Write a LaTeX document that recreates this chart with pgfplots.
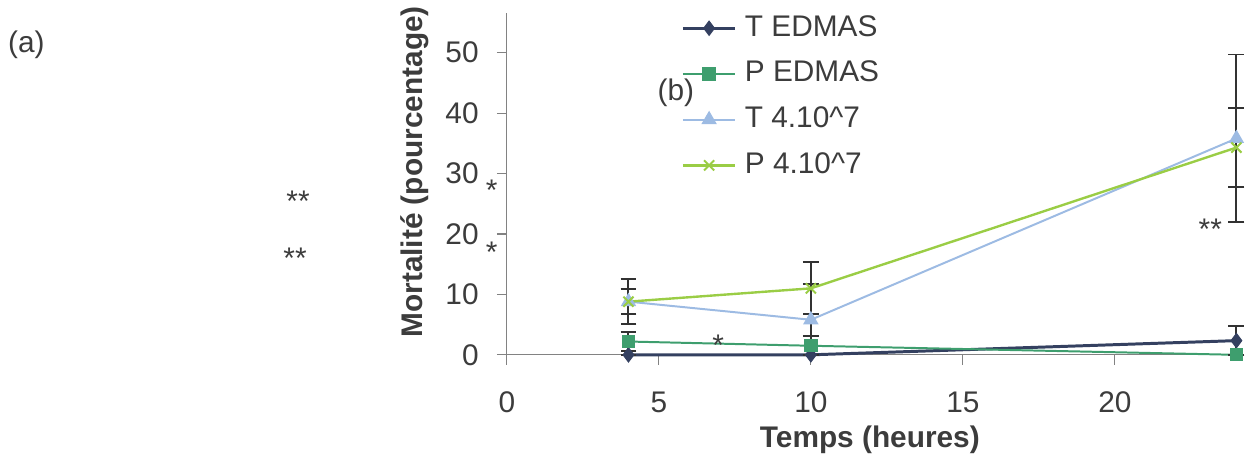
\documentclass[border=0pt]{standalone}
\usepackage{pgfplots}
\pgfplotsset{compat=1.18}
\usepackage{pgfplotstable}
\usepackage{fontspec}
\setmainfont{Liberation Sans}

\definecolor{tedmas}{RGB}{52,64,96}
\definecolor{pedmas}{RGB}{62,158,110}
\definecolor{tseven}{RGB}{157,187,227}
\definecolor{pseven}{RGB}{154,205,69}
\definecolor{txt}{RGB}{60,60,60}
\definecolor{axisgray}{RGB}{130,130,130}
\definecolor{errc}{RGB}{50,50,50}

% columns: time (h), mortality (%), error plus, error minus
\pgfplotstableread{
x  y     ep    em
4  0     0     0
10 0     0     0
24 2.35  2.4   2.4
}\tedmas
\pgfplotstableread{
x  y     ep    em
4  2.2   1.5   1.5
10 1.5   1.6   1.5
24 0     0     0
}\pedmas
\pgfplotstableread{
x  y     ep    em
4  8.8   2.1   2.1
10 5.8   6.0   5.8
24 35.8  13.9  13.9
}\tseven
\pgfplotstableread{
x  y     ep    em
4  8.8   3.7   3.7
10 11.0  4.3   4.3
24 34.3  6.6   6.6
}\pseven

\newcommand{\bigfont}{\fontsize{15pt}{18pt}\selectfont}

\begin{document}
\begin{tikzpicture}[font=\bigfont, text=txt]
\begin{axis}[
  scale only axis,
  width=367pt, height=171.75pt,
  at={(0pt,0pt)}, anchor=south west,
  xmin=0, xmax=24, ymin=0, ymax=56.5,
  xtick={0,5,10,15,20}, ytick={0,10,20,30,40,50},
  axis lines=left,
  axis line style={-, axisgray, line width=0.6pt},
  tick style={axisgray, line width=0.6pt},
  tick align=outside, major tick length=5pt,
  /pgf/number format/assume math mode=true,
  tick label style={font=\bigfont, text=txt},
  yticklabel style={inner sep=0pt, xshift=-9pt},
  xticklabel style={inner sep=0pt, anchor=north, yshift=-13.5pt},
  clip=false,
  error bars/y dir=both,
  error bars/y explicit,
  error bars/error bar style={errc, line width=1pt},
  error bars/error mark options={rotate=90, errc, mark size=4pt, line width=1pt},
  legend cell align=left,
  legend style={draw=none, fill=none, at={(0.2385,0.9985)}, anchor=north west,
    font=\bigfont, inner sep=0pt, row sep=9pt,
    nodes={inner sep=0pt, text height=11pt, text depth=3pt},
    /tikz/every even column/.append style={column sep=-9pt}},
  legend image code/.code={\draw[mark repeat=2,mark phase=2] plot coordinates {(0pt,0pt) (13.25pt,0pt) (26.5pt,0pt)};},
]
\addplot[tedmas, line width=1.5pt, mark=diamond*, mark size=3.6pt, mark options={fill=tedmas, line width=0.5pt}]
  table[x=x, y=y, y error plus=ep, y error minus=em] {\tedmas};
\addlegendentry{\hspace{4pt}T EDMAS}
\addplot[pedmas, line width=1pt, mark=square*, mark size=3.1pt, mark options={fill=pedmas, line width=0.5pt}]
  table[x=x, y=y, y error plus=ep, y error minus=em] {\pedmas};
\addlegendentry{\hspace{4pt}P EDMAS}
\addplot[tseven, line width=1pt, mark=triangle*, mark size=4pt, mark options={fill=tseven, line width=0.5pt}]
  table[x=x, y=y, y error plus=ep, y error minus=em] {\tseven};
\addlegendentry{\hspace{4pt}T 4.10\textasciicircum 7}
\addplot[pseven, line width=1.2pt, mark=x, mark size=3.6pt, mark options={line width=1pt}]
  table[x=x, y=y, y error plus=ep, y error minus=em] {\pseven};
\addlegendentry{\hspace{4pt}P 4.10\textasciicircum 7}

% panel letters and significance marks
\node[anchor=west, inner sep=0pt] at (axis cs:-16.42,51.3) {(a)};
\node[inner sep=0pt] at (axis cs:5.56,43.4) {(b)};
\node[anchor=base, inner sep=0pt] at (axis cs:-6.87,23.8) {**};
\node[anchor=base, inner sep=0pt] at (axis cs:-6.97,14.3) {**};
\node[anchor=base, inner sep=0pt] at (axis cs:-0.5,25.5) {*};
\node[anchor=base, inner sep=0pt] at (axis cs:-0.5,15.3) {*};
\node[anchor=base, inner sep=0pt] at (axis cs:6.95,-0.1) {*};
\node[anchor=base, inner sep=0pt] at (axis cs:23.14,19.1) {**};

% axis titles
\node[rotate=90, anchor=base west, inner sep=0pt, font=\bigfont\bfseries] at (axis cs:-2.78,2.8) {Mortalité (pourcentage)};
\node[anchor=base, inner sep=0pt, font=\bigfont\bfseries] at (axis cs:11.94,-15.3) {Temps (heures)};
\end{axis}
\useasboundingbox (-255pt,-46pt) rectangle (370.5pt,178.5pt);
\end{tikzpicture}
\end{document}
